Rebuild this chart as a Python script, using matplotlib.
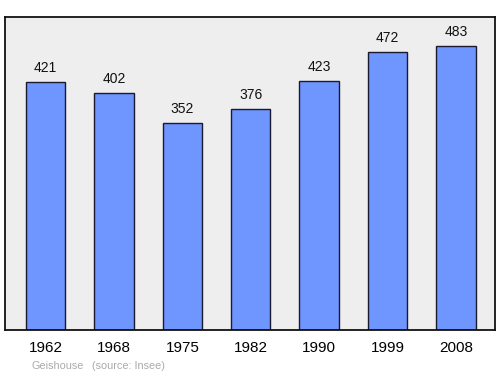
import matplotlib
matplotlib.use("Agg")
import matplotlib.pyplot as plt

years = ["1962", "1968", "1975", "1982", "1990", "1999", "2008"]
population = [421, 402, 352, 376, 423, 472, 483]
place = "Geishouse"
source = "(source: Insee)"

plt.rcParams['font.family'] = ['Liberation Sans', 'DejaVu Sans']

fig = plt.figure(figsize=(5, 3.74), dpi=100)
ax = fig.add_axes([0.01, 0.1176, 0.98, 0.837])
ax.set_facecolor('#eeeeee')
x = list(range(len(years)))
ax.bar(x, population, width=0.577, color='#6f95ff', edgecolor='#1a1a2e', linewidth=1.0, zorder=2)
for xi, v in zip(x, population):
    ax.text(xi, v + 24, str(v), ha='center', va='center', fontsize=10, color='#111111')
ax.set_xlim(-0.592, 6.57)
ax.set_ylim(0, 532)
ax.set_yticks([])
ax.set_xticks(x)
ax.set_xticklabels(years, fontsize=11)
ax.tick_params(axis='x', length=0, pad=8)
for s in ax.spines.values():
    s.set_linewidth(1.3)
    s.set_color('#111111')
fig.text(31/500, 1 - 366/374, place, fontsize=7.8, color='#aaaaaa', ha='left', va='center')
fig.text(92/500, 1 - 366/374, source, fontsize=7.8, color='#aaaaaa', ha='left', va='center')
fig.savefig('out.png', dpi=100)
